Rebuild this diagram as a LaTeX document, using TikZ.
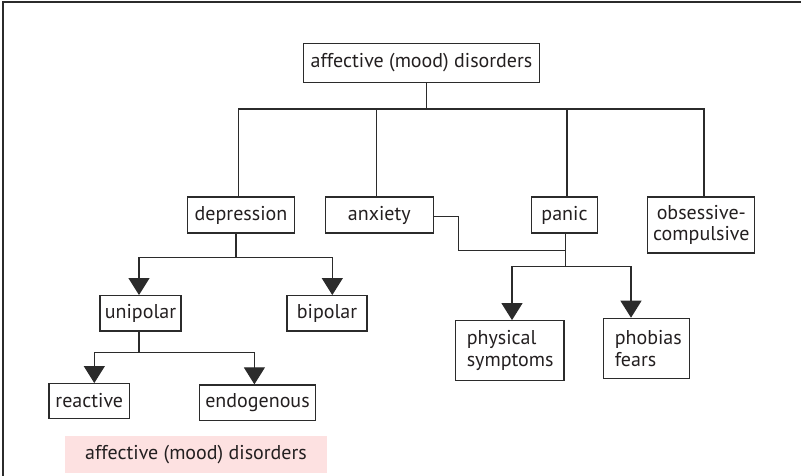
\documentclass[tikz,border=0pt]{standalone}
\usepackage{fontspec}
\setmainfont{PT Sans}
\usetikzlibrary{arrows.meta,calc}
\definecolor{ink}{HTML}{2B2B2B}
\definecolor{txt}{HTML}{231F20}
\definecolor{pinkbg}{HTML}{FDE1E1}
\begin{document}
\begin{tikzpicture}[x=1pt,y=-1pt,
  lbl/.style={text=txt,font=\fontsize{20}{21.5}\selectfont},
  box/.style={lbl,draw=ink,line width=1.2pt,rectangle,inner sep=0pt},
  conn/.style={draw=ink,line width=1.2pt},
  arr/.style={conn,-{Triangle[width=21pt,length=17pt]}}]
\useasboundingbox (0,0) rectangle (801,476);
% frame
\draw[ink,line width=1.6pt] (3,476) -- (3,2) -- (801,2);
% nodes
\node[box,minimum width=236pt,minimum height=39.5pt] (top) at (421.5,63) {affective (mood) disorders};
\node[box,minimum width=107pt,minimum height=36pt] (dep) at (241,215) {depression};
\node[box,minimum width=108pt,minimum height=36pt] (anx) at (379.3,215) {anxiety};
\node[box,minimum width=66.5pt,minimum height=36pt] (pan) at (564.5,215) {panic};
\node[box,minimum width=107pt,minimum height=56pt,align=center] (obs) at (701.3,225) {obsessive-\\compulsive};
\node[box,minimum width=81pt,minimum height=35.3pt] (uni) at (140.5,313.3) {unipolar};
\node[box,minimum width=80pt,minimum height=35.3pt] (bip) at (327,313.3) {bipolar};
\node[box,minimum width=80.7pt,minimum height=34.7pt] (rea) at (89.3,401) {reactive};
\node[box,minimum width=115.5pt,minimum height=35.7pt] (endo) at (257.5,402.8) {endogenous};
\node[box,minimum width=108.3pt,minimum height=60pt,align=left,text width=86pt] (phys) at (509.8,350.7) {physical\\symptoms};
\node[box,minimum width=86pt,minimum height=60pt,align=left,text width=64pt] (phob) at (646.8,348.3) {phobias\\fears};
\node[lbl,rectangle,fill=pinkbg,minimum width=262pt,minimum height=36.7pt,inner sep=0pt] (key) at (196,454.3) {affective (mood) disorders};
% bus coordinates
\coordinate (tb) at (426.6,109);
\coordinate (bl) at (238.6,109);
\coordinate (br) at (704,109);
\coordinate (ba) at (376.5,109);
\coordinate (bp) at (567,109);
\draw[conn] (tb|-top.south) -- (tb);
\draw[conn] (bl|-dep.north) -- (bl) -- (br) -- (br|-obs.north);
\draw[conn] (ba) -- (ba|-anx.north);
\draw[conn] (bp) -- (bp|-pan.north);
% depression branch
\coordinate (ds) at (236,257.3);
\coordinate (dl) at (139,257.3);
\coordinate (dr) at (332.3,257.3);
\draw[conn] (ds|-dep.south) -- (ds);
\draw[arr] (ds) -- (dl) -- (dl|-uni.north);
\draw[arr] (ds) -- (dr) -- (dr|-bip.north);
% unipolar branch
\coordinate (us) at (139,352.3);
\coordinate (ul) at (94.3,352.3);
\coordinate (ur) at (254.4,352.3);
\draw[conn] (us|-uni.south) -- (us);
\draw[arr] (us) -- (ul) -- (ul|-rea.north);
\draw[arr] (us) -- (ur) -- (ur|-endo.north);
% anxiety / panic
\coordinate (ax) at (458.7,216.7);
\coordinate (pj) at (565.5,250.7);
\coordinate (ps) at (565.5,266.7);
\coordinate (pl) at (512,266.7);
\coordinate (pr) at (631,266.7);
\draw[conn] (anx.east|-ax) -- (ax) -- (ax|-pj) -- (pj);
\draw[conn] (ps|-pan.south) -- (ps);
\draw[arr] (ps) -- (pl) -- (pl|-phys.north);
\draw[arr] (ps) -- (pr) -- (pr|-phob.north);
\end{tikzpicture}
\end{document}
